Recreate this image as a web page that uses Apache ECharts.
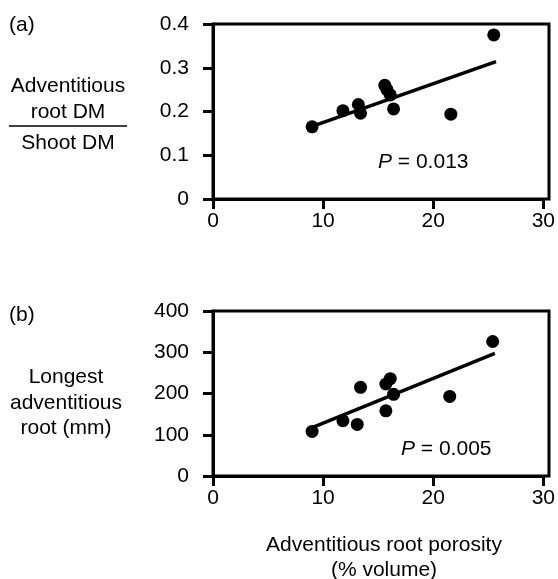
<!DOCTYPE html>
<html>
<head>
<meta charset="utf-8">
<script src="https://cdn.jsdelivr.net/npm/echarts@6/dist/echarts.min.js"></script>
<style>
  html, body { margin: 0; padding: 0; background: #fff; }
  #chart { width: 558px; height: 579px; }
</style>
</head>
<body>
<div id="chart"></div>
<script>
// porosity (% volume) on x, shared by both panels
var porosityA = [9.0, 11.8, 13.2, 13.4, 15.6, 15.8, 16.1, 16.4, 21.6, 25.5]
var ratioA = [0.165, 0.202, 0.216, 0.196, 0.26, 0.25, 0.238, 0.206, 0.194, 0.375]
var fitA = [[9.0, 0.166], [25.7, 0.314]]

var porosityB = [9.0, 11.8, 13.1, 13.4, 15.7, 16.1, 16.4, 15.7, 21.5, 25.4]
var lengthB = [108, 134, 125, 215, 223, 236, 198, 158, 193, 326]
var fitB = [[9.0, 117], [25.6, 297]]

var xTicks = [0, 10, 20, 30]
var yTicksA = [0, 0.1, 0.2, 0.3, 0.4]
var yTicksB = [0, 100, 200, 300, 400]

var FONT = "'Liberation Sans', Arial, Helvetica, sans-serif"
var FS = 21

var gridA = { left: 213, top: 24, width: 336, height: 175 }
var gridB = { left: 213, top: 311, width: 336, height: 165 }

function pairs(xs, ys) {
  return xs.map(function (x, i) { return [x, ys[i]] })
}

var blackLine = { color: '#000', width: 3 }

function xAxisFor(idx) {
  return {
    type: 'value', gridIndex: idx,
    min: xTicks[0], max: xTicks[xTicks.length - 1], interval: 10,
    axisLine: { show: true, onZero: false, lineStyle: blackLine },
    axisTick: { show: true, inside: false, length: 10, lineStyle: blackLine },
    axisLabel: { color: '#000', fontSize: FS, fontFamily: FONT, margin: 12 },
    splitLine: { show: false }
  }
}

function yAxisFor(idx, ticks) {
  return {
    type: 'value', gridIndex: idx,
    min: ticks[0], max: ticks[ticks.length - 1], interval: ticks[1] - ticks[0],
    axisLine: { show: true, onZero: false, lineStyle: blackLine },
    axisTick: { show: true, inside: false, length: 10, lineStyle: blackLine },
    axisLabel: { color: '#000', fontSize: FS, fontFamily: FONT, margin: 24 },
    splitLine: { show: false }
  }
}

// box around each panel
function frame(g) {
  return {
    type: 'rect', z: 5, silent: true,
    shape: { x: g.left, y: g.top, width: g.width, height: g.height },
    style: { fill: 'none', stroke: '#000', lineWidth: 3 }
  }
}

var txt = function (x, y, text, extra) {
  var s = { text: text, fill: '#000', font: FS + 'px ' + FONT, textAlign: 'center', textVerticalAlign: 'middle' }
  for (var k in extra) s[k] = extra[k]
  return { type: 'text', x: x, y: y, style: s, z: 10 }
}

function pText(x, y, text) {
  return {
    type: 'text', x: x, y: y, z: 10,
    style: {
      text: text, textVerticalAlign: 'middle', fill: '#000',
      font: FS + 'px ' + FONT,
      rich: { i: { fontStyle: 'italic', fontSize: FS, fontFamily: FONT, fill: '#000' } }
    }
  }
}

var myChart = echarts.init(document.getElementById('chart'))

var option = {
  backgroundColor: '#fff',
  animation: false,
  grid: [gridA, gridB],
  xAxis: [xAxisFor(0), xAxisFor(1)],
  yAxis: [yAxisFor(0, yTicksA), yAxisFor(1, yTicksB)],
  series: [
    {
      type: 'line', xAxisIndex: 0, yAxisIndex: 0, data: fitA,
      showSymbol: false, lineStyle: { color: '#000', width: 3.5 }, z: 2
    },
    {
      type: 'scatter', xAxisIndex: 0, yAxisIndex: 0, data: pairs(porosityA, ratioA),
      symbolSize: 13, itemStyle: { color: '#000', opacity: 1 }, z: 3
    },
    {
      type: 'line', xAxisIndex: 1, yAxisIndex: 1, data: fitB,
      showSymbol: false, lineStyle: { color: '#000', width: 3.5 }, z: 2
    },
    {
      type: 'scatter', xAxisIndex: 1, yAxisIndex: 1, data: pairs(porosityB, lengthB),
      symbolSize: 13, itemStyle: { color: '#000', opacity: 1 }, z: 3
    }
  ],
  graphic: [
    frame(gridA),
    frame(gridB),
    txt(9, 25, '(a)', { textAlign: 'left' }),
    txt(68, 86, 'Adventitious'),
    txt(68, 112, 'root DM'),
    { type: 'line', shape: { x1: 9, y1: 126, x2: 127, y2: 126 }, style: { stroke: '#000', lineWidth: 1.5 } },
    txt(68, 143, 'Shoot DM'),
    pText(378, 162, '{i|P} = 0.013'),
    txt(9, 315, '(b)', { textAlign: 'left' }),
    txt(66, 377, 'Longest'),
    txt(66, 403, 'adventitious'),
    txt(66, 428, 'root (mm)'),
    pText(401, 449, '{i|P} = 0.005'),
    txt(384, 545, 'Adventitious root porosity'),
    txt(384, 570, '(% volume)')
  ]
}

myChart.setOption(option)
</script>
</body>
</html>
